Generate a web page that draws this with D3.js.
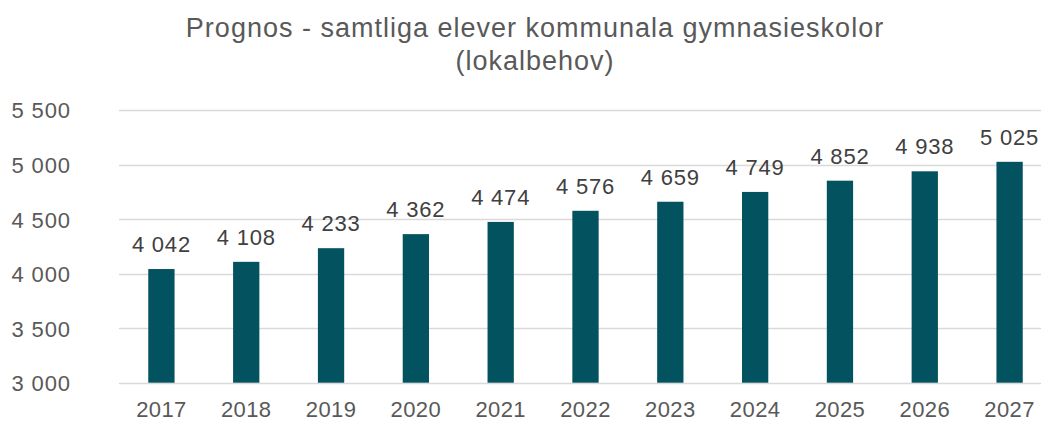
<!DOCTYPE html>
<html>
<head>
<meta charset="utf-8">
<script src="https://cdn.jsdelivr.net/npm/d3@7/dist/d3.min.js"></script>
<style>
  html, body { margin: 0; padding: 0; background: #fff; overflow: hidden; }
  svg { display: block; font-family: 'Liberation Sans', Arial, sans-serif; }
</style>
</head>
<body>
<svg id="chart" width="1041" height="421"></svg>
<script>
const years = ['2017', '2018', '2019', '2020', '2021', '2022', '2023', '2024', '2025', '2026', '2027'];
const students = [4042, 4108, 4233, 4362, 4474, 4576, 4659, 4749, 4852, 4938, 5025];
const yTicks = [3000, 3500, 4000, 4500, 5000, 5500];
const titleLines = ['Prognos - samtliga elever kommunala gymnasieskolor', '(lokalbehov)'];

const svg = d3.select('#chart');
svg.selectAll('*').remove();

// swedish number format: space as thousands separator
const sv = d3.formatLocale({ decimal: ',', thousands: ' ', grouping: [3], currency: ['', ''] });
const fmt = sv.format(',d');

const textColor = '#595959';
const barColor = '#03525f';

// plot area (runs past the right edge, like the source)
const plot = { left: 119, right: 1052, top: 110, bottom: 382.7 };

const x = d3.scaleBand()
  .domain(years)
  .range([plot.left, plot.right])
  .paddingInner(0.69)
  .paddingOuter(0.345);

const y = d3.scaleLinear()
  .domain([3000, 5500])
  .range([plot.bottom, plot.top]);

// title
svg.append('g')
  .selectAll('text')
  .data(titleLines)
  .enter()
  .append('text')
  .attr('x', 535)
  .attr('y', (d, i) => 37 + i * 33)
  .attr('text-anchor', 'middle')
  .attr('font-size', 27)
  .attr('letter-spacing', 1)
  .attr('fill', textColor)
  .text(d => d);

// gridlines
svg.append('g')
  .selectAll('line')
  .data(yTicks)
  .enter()
  .append('line')
  .attr('x1', plot.left)
  .attr('x2', 1041)
  .attr('y1', d => Math.round(y(d)) + 0.5)
  .attr('y2', d => Math.round(y(d)) + 0.5)
  .attr('stroke', '#d9d9d9')
  .attr('stroke-width', 1.3);

// y axis labels
const yAxis = svg.append('g')
  .attr('transform', 'translate(' + (plot.left - 10) + ',0)')
  .call(d3.axisLeft(y).tickValues(yTicks).tickFormat(fmt).tickSize(0).tickPadding(38));
yAxis.select('.domain').remove();
yAxis.selectAll('text')
  .attr('font-size', 22)
  .attr('letter-spacing', 0.9)
  .attr('font-family', "'Liberation Sans', Arial, sans-serif")
  .attr('fill', textColor)
  .attr('dy', '0.36em');

// x axis labels
const xAxis = svg.append('g')
  .attr('transform', 'translate(0,' + plot.bottom + ')')
  .call(d3.axisBottom(x).tickSize(0).tickPadding(19));
xAxis.select('.domain').remove();
xAxis.selectAll('text')
  .attr('font-size', 22)
  .attr('letter-spacing', 0.4)
  .attr('font-family', "'Liberation Sans', Arial, sans-serif")
  .attr('fill', textColor);

// bars
svg.append('g')
  .selectAll('rect')
  .data(students)
  .enter()
  .append('rect')
  .attr('x', (d, i) => x(years[i]))
  .attr('y', d => y(d))
  .attr('width', x.bandwidth())
  .attr('height', d => plot.bottom - y(d))
  .attr('fill', barColor);

// value labels
svg.append('g')
  .selectAll('text')
  .data(students)
  .enter()
  .append('text')
  .attr('x', (d, i) => x(years[i]) + x.bandwidth() / 2)
  .attr('y', d => y(d) - 17)
  .attr('text-anchor', 'middle')
  .attr('font-size', 22)
  .attr('letter-spacing', 0.8)
  .attr('fill', '#404040')
  .text(d => fmt(d));
</script>
</body>
</html>
